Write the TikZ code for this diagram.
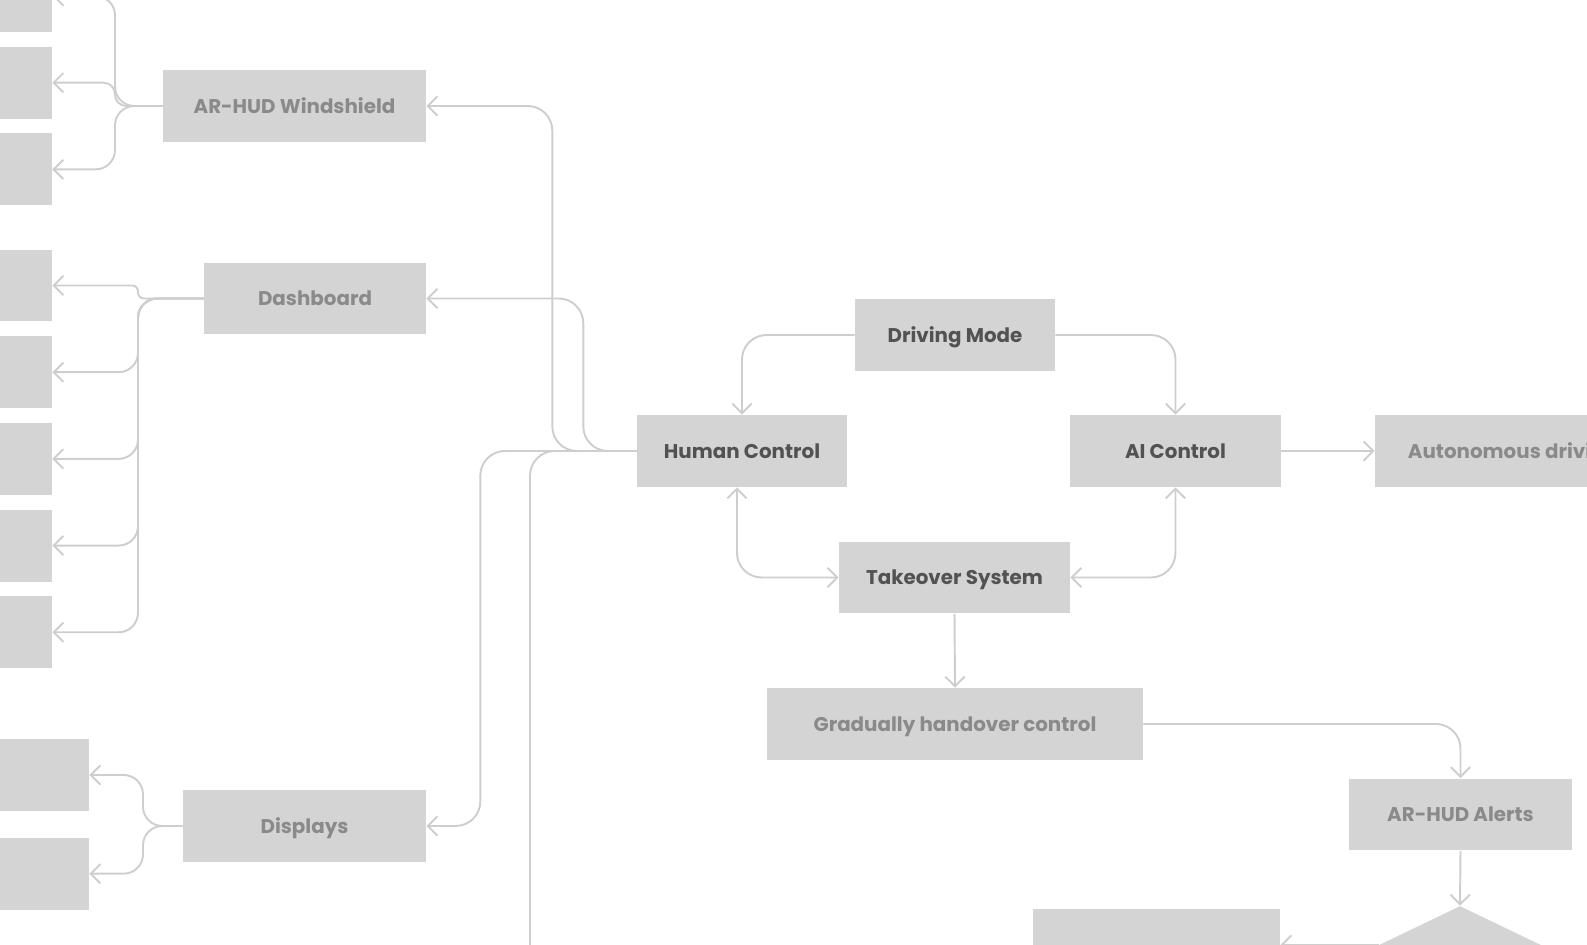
\documentclass[tikz,border=0pt]{standalone}
\usepackage{fontspec}
\setmainfont{Poppins}
\usetikzlibrary{positioning, arrows.meta, shapes.geometric}
\definecolor{BoxGray}{RGB}{212,212,212}
\definecolor{LineGray}{RGB}{206,206,206}
\definecolor{DarkText}{RGB}{82,82,82}
\definecolor{SoftText}{RGB}{138,138,138}

\begin{document}
\begin{tikzpicture}[x=0.02cm, y=-0.02cm, node distance=0.28cm,
    >={Straight Barb[length=5.5pt,width=11pt]},
    blk/.style={fill=BoxGray, minimum height=1.44cm, inner sep=0pt, text height=1.05em, text depth=0.2em, font=\bfseries\fontsize{11.3}{13}\selectfont, text=SoftText},
    core/.style={blk, text=DarkText},
    leaf/.style={fill=BoxGray, minimum width=3cm, minimum height=1.44cm, inner sep=0pt},
    link/.style={draw=LineGray, line width=1.1pt, rounded corners=14pt, ->}]
  \useasboundingbox (0,0) rectangle (1587,945);
  \clip (0,0) rectangle (1587,945);

  \node[blk, minimum width=5.26cm] (wind) at (294.5,106) {AR-HUD Windshield};
  \node[blk, minimum width=4.44cm] (dash) at (315,298.5) {Dashboard};
  \node[blk, minimum width=4.86cm] (disp) at (304.5,826) {Displays};
  \node[core, minimum width=4.0cm] (dm) at (955,335) {Driving Mode};
  \node[core, minimum width=4.2cm] (hc) at (742,451) {Human Control};
  \node[core, minimum width=4.22cm] (ai) at (1175.5,451) {AI Control};
  \node[core, minimum width=4.62cm] (ts) at (954.5,577.5) {Takeover System};
  \node[blk, minimum width=7.52cm] (gr) at (955,724) {Gradually handover control};
  \node[blk, minimum width=4.46cm] (al) at (1460.5,814.5) {AR-HUD Alerts};
  \node[blk, minimum width=5.52cm] (auto) at (1513,451) {Autonomous driving};
  \node[blk, minimum width=4.94cm] (bb) at (1156.5,945) {};
  \node[shape=diamond, fill=BoxGray, minimum width=3.24cm, minimum height=1.56cm, inner sep=0pt] (dia) at (1460,945) {};

  \node[leaf] (w1) at (-23,-4) {};
  \node[leaf, below=of w1] (w2) {};
  \node[leaf, below=of w2] (w3) {};
  \node[leaf] (d1) at (-23,285.5) {};
  \node[leaf, below=of d1] (d2) {};
  \node[leaf, below=of d2] (d3) {};
  \node[leaf, below=of d3] (d4) {};
  \node[leaf, below=of d4] (d5) {};
  \node[leaf] (p1) at (14,775) {};
  \node[leaf, below=0.52cm of p1] (p2) {};

  \coordinate (wfan) at (115,106);
  \coordinate (dfan) at (138,298.5);
  \coordinate (pfan) at (143,826);
  \coordinate (down) at (530,1000);

  \draw[link, rounded corners=11pt] (wind.west) -- (wfan) |- (w1.east);
  \draw[link, rounded corners=6.5pt] (wind.west) -- (wfan) |- (w2.east);
  \draw[link, rounded corners=11pt] (wind.west) -- (wfan) |- (w3.east);
  \draw[link, rounded corners=3.4pt] (dash.west) -- (dfan) |- (d1.east);
  \foreach \n in {d2,d3,d4,d5}
    \draw[link, rounded corners=11pt] (dash.west) -- (dfan) |- (\n.east);
  \foreach \n in {p1,p2}
    \draw[link, rounded corners=11pt] (disp.west) -- (pfan) |- (\n.east);

  \draw[link] (hc.west) -| ([xshift=2.52cm]wind.east) -- (wind.east);
  \draw[link] (hc.west) -| ([xshift=3.14cm]dash.east) -- (dash.east);
  \draw[link] (hc.west) -| ([xshift=1.08cm]disp.east) -- (disp.east);
  \draw[link] (hc.west) -| (down);

  \draw[link] (dm.west) -| (hc.north);
  \draw[link] (dm.east) -| (ai.north);
  \draw[link, <->] ([xshift=-0.1cm]hc.south) |- (ts.west);
  \draw[link, <->] (ai.south) |- (ts.east);
  \draw[link] (ai.east) -- (auto.west);
  \draw[link] (ts.south) -- (gr.north);
  \draw[link] (gr.east) -| (al.north);
  \draw[link] (al.south) -- (dia.north);
  \draw[link] (dia.west) -- (bb.east);
\end{tikzpicture}
\end{document}
